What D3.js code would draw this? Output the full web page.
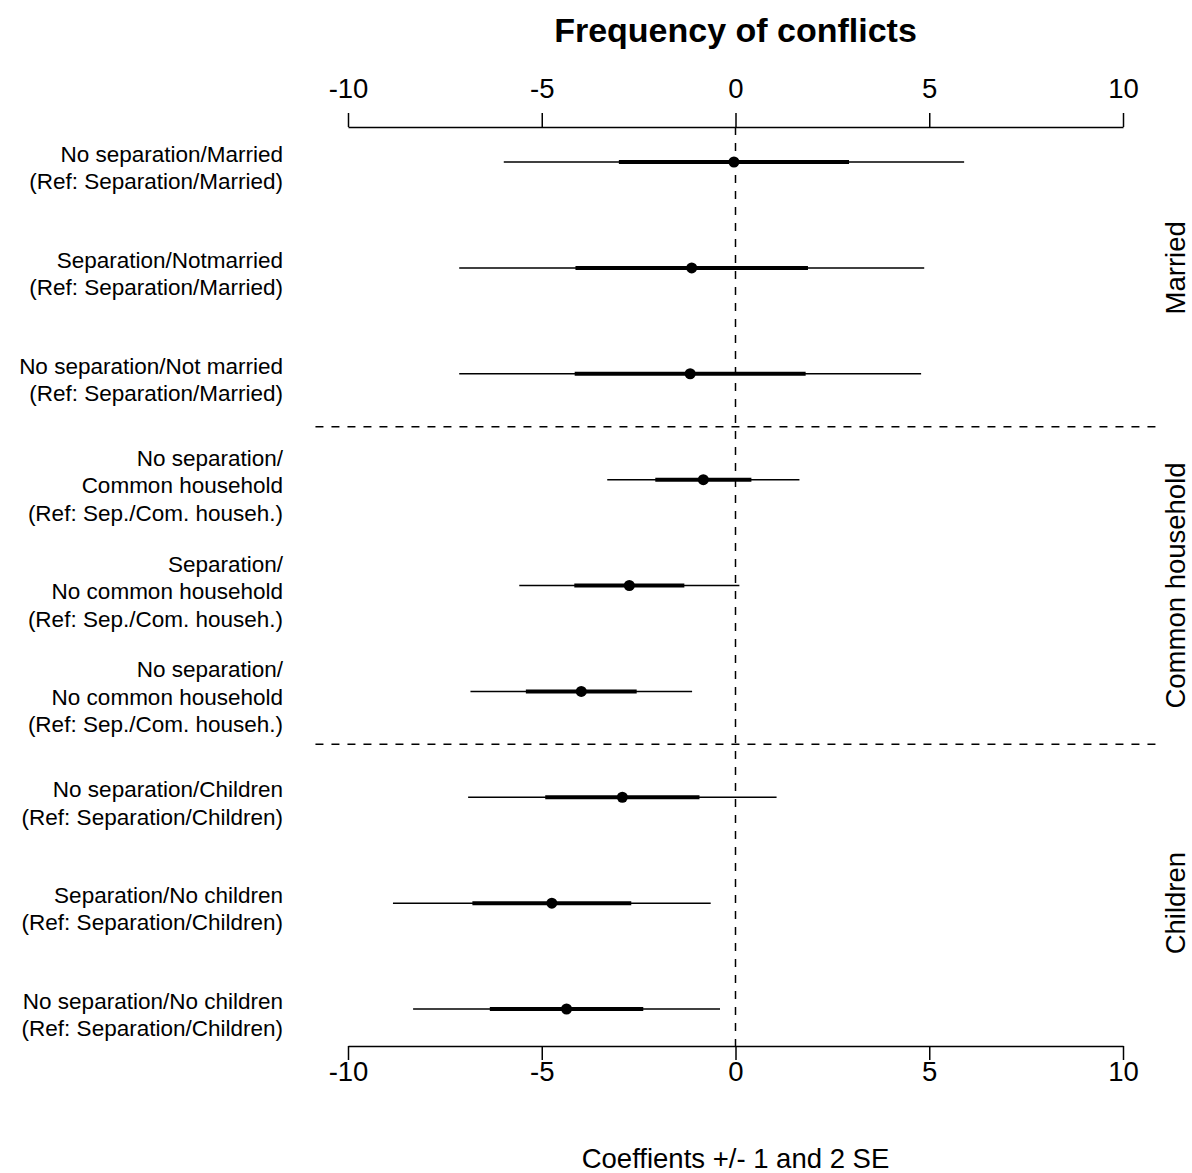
<!DOCTYPE html>
<html>
<head>
<meta charset="utf-8">
<script src="https://cdn.jsdelivr.net/npm/d3@7"></script>
<style>
body { margin: 0; background: #fff; }
svg { display: block; font-family: "Liberation Sans", Arial, sans-serif; }
</style>
</head>
<body>
<svg></svg>
<script>
// row labels, top to bottom
var labels = [
  ["No separation/Married", "(Ref: Separation/Married)"],
  ["Separation/Notmarried", "(Ref: Separation/Married)"],
  ["No separation/Not married", "(Ref: Separation/Married)"],
  ["No separation/", "Common household", "(Ref: Sep./Com. househ.)"],
  ["Separation/", "No common household", "(Ref: Sep./Com. househ.)"],
  ["No separation/", "No common household", "(Ref: Sep./Com. househ.)"],
  ["No separation/Children", "(Ref: Separation/Children)"],
  ["Separation/No children", "(Ref: Separation/Children)"],
  ["No separation/No children", "(Ref: Separation/Children)"]
];
var estimates = [-0.04, -1.13, -1.17, -0.83, -2.74, -3.98, -2.92, -4.74, -4.36];
var se = [2.97, 3.0, 2.98, 1.24, 1.42, 1.43, 1.99, 2.05, 1.98];
var groups = ["Married", "Common household", "Children"];
var groupRows = [[1, 3], [4, 6], [7, 9]];
var xTicks = [-10, -5, 0, 5, 10];

var width = 1192;
var height = 1173;

var svg = d3.select("svg")
  .attr("width", width)
  .attr("height", height);

var x = d3.scaleLinear().domain([-10, 10]).range([348, 1123]);
var y = d3.scaleLinear().domain([1, 9]).range([162, 1009]);

var plotTop = 127;
var plotBottom = 1046;
var plotLeft = x(-10.84);
var plotRight = x(10.84);

// title
svg.append("text")
  .attr("x", x(0))
  .attr("y", 42)
  .attr("text-anchor", "middle")
  .attr("font-size", "34px")
  .attr("font-weight", "bold")
  .text("Frequency of conflicts");

// axes (plain hyphen for negatives, like the original)
var fmt = function(d) { return String(d); };
var topAxis = d3.axisTop(x).tickValues(xTicks).tickFormat(fmt).tickSize(14).tickSizeOuter(0).tickPadding(15);
var bottomAxis = d3.axisBottom(x).tickValues(xTicks).tickFormat(fmt).tickSize(14).tickSizeOuter(0).tickPadding(1);

var gTop = svg.append("g").attr("transform", "translate(0," + plotTop + ")").call(topAxis);
var gBot = svg.append("g").attr("transform", "translate(0," + plotBottom + ")").call(bottomAxis);

[gTop, gBot].forEach(function(g) {
  g.selectAll("path, line").attr("stroke", "#000").attr("stroke-width", 1.5);
  g.selectAll("text").attr("font-size", "27.5px").attr("fill", "#000")
    .attr("font-family", "'Liberation Sans', Arial, sans-serif");
});

// zero line
svg.append("line")
  .attr("x1", x(0)).attr("x2", x(0))
  .attr("y1", plotTop).attr("y2", plotBottom)
  .attr("stroke", "#000")
  .attr("stroke-width", 1.5)
  .attr("stroke-dasharray", "8,8");

// group separators
var seps = [3.5, 6.5];
svg.selectAll(".sep")
  .data(seps)
  .enter()
  .append("line")
  .attr("class", "sep")
  .attr("x1", plotLeft).attr("x2", plotRight)
  .attr("y1", function(d) { return y(d); })
  .attr("y2", function(d) { return y(d); })
  .attr("stroke", "#000")
  .attr("stroke-width", 1.5)
  .attr("stroke-dasharray", "8,8");

var rows = estimates.map(function(d, i) {
  return { est: d, se: se[i], row: i + 1, label: labels[i] };
});

// 2 SE lines
svg.selectAll(".thin")
  .data(rows)
  .enter()
  .append("line")
  .attr("class", "thin")
  .attr("x1", function(d) { return x(d.est - 2 * d.se); })
  .attr("x2", function(d) { return x(d.est + 2 * d.se); })
  .attr("y1", function(d) { return y(d.row); })
  .attr("y2", function(d) { return y(d.row); })
  .attr("stroke", "#000")
  .attr("stroke-width", 1.5);

// 1 SE lines
svg.selectAll(".thick")
  .data(rows)
  .enter()
  .append("line")
  .attr("class", "thick")
  .attr("x1", function(d) { return x(d.est - d.se); })
  .attr("x2", function(d) { return x(d.est + d.se); })
  .attr("y1", function(d) { return y(d.row); })
  .attr("y2", function(d) { return y(d.row); })
  .attr("stroke", "#000")
  .attr("stroke-width", 4);

svg.selectAll(".pt")
  .data(rows)
  .enter()
  .append("circle")
  .attr("class", "pt")
  .attr("cx", function(d) { return x(d.est); })
  .attr("cy", function(d) { return y(d.row); })
  .attr("r", 5.5)
  .attr("fill", "#000");

// left labels
var lab = svg.selectAll(".lab")
  .data(rows)
  .enter()
  .append("text")
  .attr("class", "lab")
  .attr("text-anchor", "end")
  .attr("font-size", "22.5px")
  .attr("fill", "#000");

lab.selectAll("tspan")
  .data(function(d) {
    var n = d.label.length;
    return d.label.map(function(t, i) {
      return { t: t, yy: y(d.row) + 13.5 + (i - (n - 1) / 2) * 27.5 };
    });
  })
  .enter()
  .append("tspan")
  .attr("x", 283)
  .attr("y", function(d) { return d.yy; })
  .text(function(d) { return d.t; });

// group labels on the right
svg.selectAll(".grp")
  .data(groups)
  .enter()
  .append("text")
  .attr("class", "grp")
  .attr("text-anchor", "middle")
  .attr("font-size", "27.5px")
  .attr("fill", "#000")
  .attr("transform", function(d, i) {
    var cy = y((groupRows[i][0] + groupRows[i][1]) / 2);
    return "translate(1185," + cy + ") rotate(-90)";
  })
  .text(function(d) { return d; });

// x axis title
svg.append("text")
  .attr("x", x(0))
  .attr("y", 1168)
  .attr("text-anchor", "middle")
  .attr("font-size", "27.5px")
  .attr("fill", "#000")
  .text("Coeffients +/- 1 and 2 SE");
</script>
</body>
</html>
